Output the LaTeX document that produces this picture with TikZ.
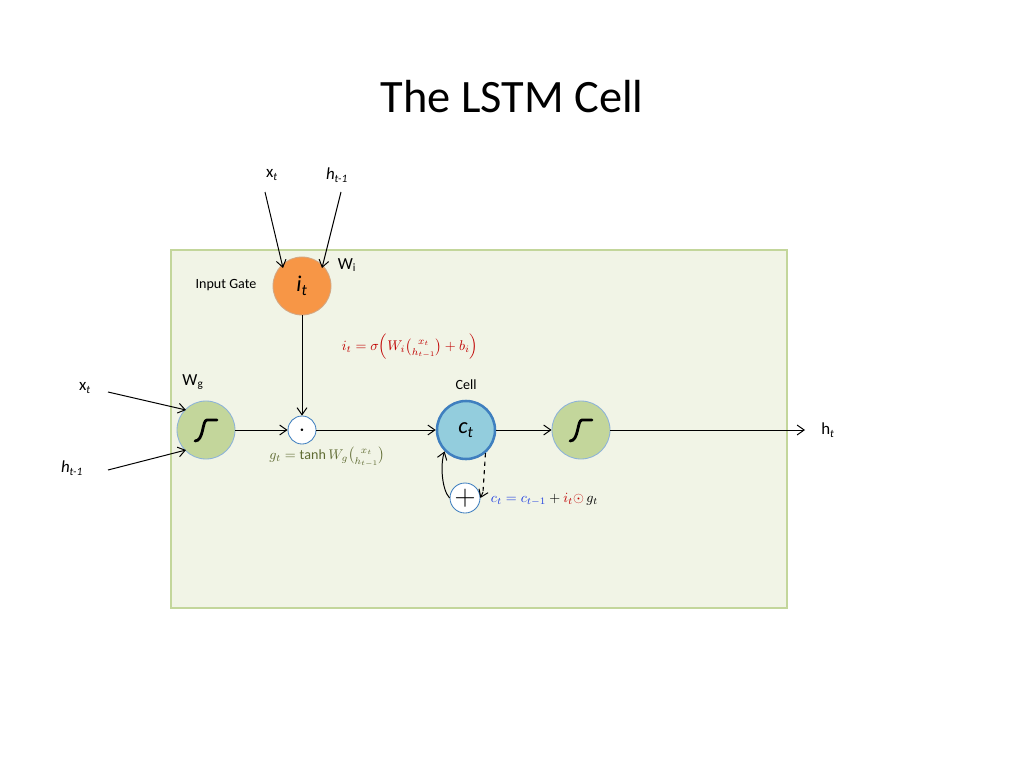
\documentclass[tikz,border=0pt]{standalone}
\usepackage{fontspec}
\usepackage{amsmath}
\setmainfont{Carlito}
\usetikzlibrary{arrows.meta}
\definecolor{boxfill}{HTML}{F1F4E6}
\definecolor{boxline}{HTML}{C3D69B}
\definecolor{gatefill}{HTML}{F79646}
\definecolor{gateline}{HTML}{B66D31}
\definecolor{tanhfill}{HTML}{C3D69B}
\definecolor{cellfill}{HTML}{93CDDD}
\definecolor{cellline}{HTML}{3F7FBF}
\definecolor{eqred}{HTML}{C00000}
\definecolor{eqgreen}{HTML}{5F6B32}
\definecolor{eqblue}{HTML}{1F3FE0}
\begin{document}
\begin{tikzpicture}[x=0.025cm,y=-0.025cm,
  arr/.style={-{Straight Barb[length=5pt,width=7pt]},line width=0.7pt},
  tanhc/.style={circle,minimum size=58\pgflinewidth,inner sep=0,draw=cellline!70,fill=tanhfill,line width=0.6pt},
  lbl/.style={font=\fontsize{12}{12}\selectfont},
  eq/.style={font=\fontsize{12}{12}\selectfont}]
\useasboundingbox (0,0) rectangle (1024,768);
\node (title) at (512,97) {\fontsize{33}{33}\selectfont The LSTM Cell};
\draw[boxline,fill=boxfill,line width=1pt] (171,250) rectangle (787,608);
\node[circle,minimum size=1.45cm,inner sep=0,fill=gatefill,draw=gateline!60,line width=0.6pt] (ig) at (302,286) {\fontsize{16}{16}\selectfont\itshape i\textsubscript{t}};
\node[lbl,font=\fontsize{10}{10}\selectfont] (iglab) at (226,285) {Input Gate};
\node[lbl] (wi) at (347,265) {W\textsubscript{i}};
\node[lbl] (xt1) at (272,175) {x\textsubscript{\itshape t}};
\node[lbl] (ht1) at (337,175) {\itshape h\textsubscript{t-1}};
\coordinate (a1) at (265,192); \coordinate (b1) at (283,268);
\coordinate (a2) at (341,192); \coordinate (b2) at (322,268);
\draw[arr] (a1) -- (b1);
\draw[arr] (a2) -- (b2);
\node[text=eqred] (ieq) at (410,347) {$i_t=\sigma\Big(W_i\binom{x_t}{h_{t-1}}+b_i\Big)$};
\node[circle,minimum size=1.45cm,inner sep=0,fill=tanhfill,draw=cellline!60,line width=0.6pt] (tl) at (206,430) {};
\node[circle,minimum size=0.7cm,inner sep=0,fill=white,draw=cellline,line width=0.6pt] (dot) at (302,430) {\large$\boldsymbol{\cdot}$};
\node[circle,minimum size=1.45cm,inner sep=0,fill=cellfill,draw=cellline,line width=1.8pt] (cell) at (466,430) {\fontsize{16}{16}\selectfont\itshape c\textsubscript{t}};
\node[circle,minimum size=1.45cm,inner sep=0,fill=tanhfill,draw=cellline!60,line width=0.6pt] (tr) at (581,430) {};
\foreach \c in {tl,tr}{
  \draw[line width=2pt,line cap=round] ([shift={(-11,11)}]\c.center) .. controls ([shift={(-2,11)}]\c.center) and ([shift={(-4,-10)}]\c.center) .. ([shift={(1,-10)}]\c.center) -- ([shift={(11,-10)}]\c.center);
}
\node[lbl] (cl) at (466,385) {\fontsize{10}{10}\selectfont Cell};
\node[lbl] (wg) at (193,382) {W\textsubscript{g}};
\node[lbl] (xt2) at (85,388) {x\textsubscript{\itshape t}};
\node[lbl] (ht2) at (72,468) {\itshape h\textsubscript{t-1}};
\node[lbl] (hout) at (828,430) {h\textsubscript{\itshape t}};
\coordinate (a3) at (108,392); \coordinate (b3) at (186,410);
\coordinate (a4) at (108,470); \coordinate (b4) at (186,450);
\coordinate (o) at (805,430);
\draw[arr] (a3) -- (b3);
\draw[arr] (a4) -- (b4);
\draw[arr] (ig) -- (dot);
\draw[arr] (tl) -- (dot);
\draw[arr] (dot) -- (cell);
\draw[arr] (cell) -- (tr);
\draw[arr] (tr) -- (o);
\node[text=eqgreen] (geq) at (327,457) {$g_t=\tanh W_g\binom{x_t}{h_{t-1}}$};
\node[circle,minimum size=0.75cm,inner sep=0,fill=white,draw=cellline,line width=0.6pt] (plus) at (465,498) {\fontsize{22}{22}\selectfont$+$};
\draw[arr] (plus.west) .. controls (442,490) and (440,465) .. (cell.225);
\coordinate (d1) at (483,492);
\draw[dashed,line width=0.8pt] (cell.310) -- (d1);
\draw[arr] (d1) -- (plus.east);
\node[anchor=west] (ceq) at (486,499) {$\color{eqblue}c_t=c_{t-1}\color{black}+\color{eqred}i_t\textcolor{eqred}{\odot}\color{black}\,g_t$};
\end{tikzpicture}
\end{document}
